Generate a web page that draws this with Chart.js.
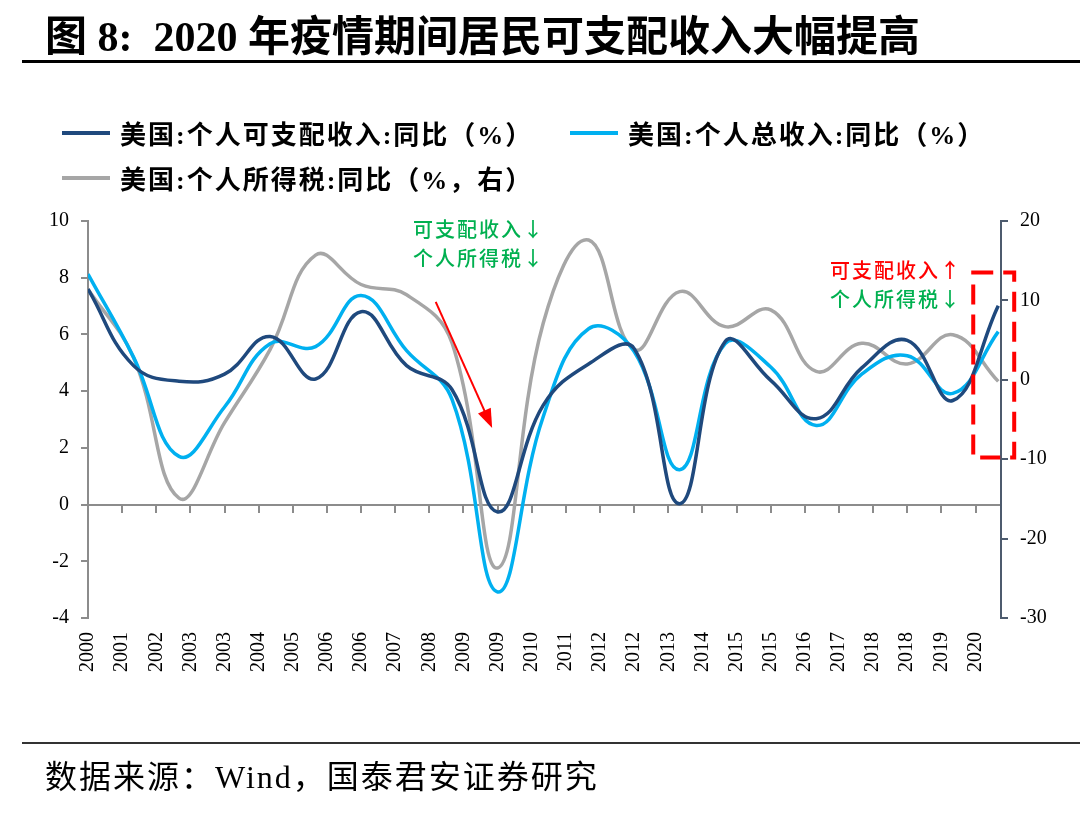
<!DOCTYPE html>
<html lang="zh">
<head>
<meta charset="UTF-8">
<title>图 8</title>
<script src="https://cdn.jsdelivr.net/npm/chart.js"></script>
<style>
  body { margin: 0; background: #fff; }
  .page { position: relative; width: 1080px; height: 813px; overflow: hidden; font-family: "Liberation Serif", "Noto Sans CJK SC", serif; }
  .chart-box { position: absolute; left: 0; top: 0; width: 1080px; height: 813px; }
  .title { position: absolute; left: 45px; top: 2px; font-size: 42px; font-weight: bold; white-space: nowrap; }
  .rule-top { position: absolute; left: 22px; right: 0; top: 60px; height: 3px; background: #000; }
  .rule-bottom { position: absolute; left: 22px; right: 0; top: 742px; height: 2px; background: #333; }
  .source { position: absolute; left: 45px; top: 751px; font-size: 32px; letter-spacing: 2px; white-space: nowrap; }
  .legend-item { position: absolute; display: flex; align-items: center; font-size: 26px; font-weight: bold; letter-spacing: 2px; white-space: nowrap; }
  .legend-item i { display: inline-block; width: 48px; height: 4px; margin-right: 10px; }
  .note { position: absolute; font-family: "Noto Sans CJK SC", sans-serif; font-size: 20px; font-weight: 500; letter-spacing: 2px; white-space: nowrap; }
</style>
</head>
<body>
<div class="page">
  <div class="chart-box"><canvas id="chart"></canvas></div>
  <div class="title">图 8:&nbsp; 2020 年疫情期间居民可支配收入大幅提高</div>
  <div class="rule-top"></div>
  <div id="legend"></div>
  <div class="note" style="left:413px; top:214px; color:#00b050;">可支配收入↓</div>
  <div class="note" style="left:413px; top:243px; color:#00b050;">个人所得税↓</div>
  <div class="note" style="left:830px; top:255px; color:#ff0000;">可支配收入↑</div>
  <div class="note" style="left:830px; top:284px; color:#00b050;">个人所得税↓</div>
  <div class="rule-bottom"></div>
  <div class="source">数据来源：Wind，国泰君安证券研究</div>
</div>

<script>
    // 年度数据 2000-2020
    var years = [2000, 2001, 2002, 2003, 2004, 2005, 2006, 2007, 2008, 2009, 2010,
        2011, 2012, 2013, 2014, 2015, 2016, 2017, 2018, 2019, 2020];
    var disposable = [7.6, 4.9, 4.35, 4.6, 5.93, 4.43, 6.8, 4.9, 4.05, -0.26, 3.5,
        4.96, 5.5, 0.03, 5.75, 4.38, 3.03, 4.82, 5.79, 3.67, 7.01];
    var totalIncome = [8.13, 5.2, 1.7, 3.44, 5.67, 5.57, 7.37, 5.43, 3.7, -3.08, 3.09,
        6.2, 5.4, 1.23, 5.68, 4.85, 2.79, 4.6, 5.25, 3.92, 6.1];
    var incomeTax = [11.4, 2.8, -14.9, -5.4, 3.8, 15.7, 12.0, 10.7, 4.6, -23.7, 7.1,
        17.6, 3.8, 11.1, 6.7, 8.8, 1.05, 4.6, 2.0, 5.67, -0.2];

    var seriesNames = ['美国:个人可支配收入:同比（%）', '美国:个人总收入:同比（%）', '美国:个人所得税:同比（%，右）'];
    var seriesColors = ['#1f497d', '#00b0f0', '#a6a6a6'];

    // 横轴标签（每 9 个月一个）
    var tickLabels = ['2000', '2001', '2002', '2003', '2003', '2004', '2005', '2006', '2006', '2007',
        '2008', '2009', '2009', '2010', '2011', '2012', '2012', '2013', '2014', '2015', '2015',
        '2016', '2017', '2018', '2018', '2019', '2020'];
    var tickValues = [];
    for (var i = 0; i < tickLabels.length; i++) {
        tickValues.push(2000 + i * 0.75);
    }

    // 图例
    var legendPos = [[62, 114], [570, 114], [62, 159]];
    var legendHtml = '';
    for (var k = 0; k < seriesNames.length; k++) {
        legendHtml += '<div class="legend-item" style="left:' + legendPos[k][0] + 'px; top:' + legendPos[k][1] + 'px;">' +
            '<i style="background:' + seriesColors[k] + '"></i>' + seriesNames[k] + '</div>';
    }
    document.getElementById('legend').innerHTML = legendHtml;

    function toPoints(values) {
        return values.map(function (v, idx) { return { x: years[idx], y: v }; });
    }

    // 箭头和红色虚线框
    var annotations = {
        id: 'annotations',
        afterDatasetsDraw: function (chart) {
            var c = chart.ctx;
            var sx = chart.scales.x, sy = chart.scales.y, sy2 = chart.scales.y2;
            c.save();
            // 虚线框
            c.strokeStyle = '#ff0000';
            c.lineWidth = 4;
            c.setLineDash([20, 10]);
            var x1 = sx.getPixelForValue(2019.45), x2 = sx.getPixelForValue(2020.35);
            var y1 = sy2.getPixelForValue(13.5), y2 = sy2.getPixelForValue(-9.8);
            c.strokeRect(x1, y1, x2 - x1, y2 - y1);
            // 箭头
            c.setLineDash([]);
            var ax = sx.getPixelForValue(2007.64), ay = sy.getPixelForValue(7.15);
            var bx = sx.getPixelForValue(2008.88), by = sy.getPixelForValue(2.7);
            var ang = Math.atan2(by - ay, bx - ax);
            c.lineWidth = 2;
            c.beginPath();
            c.moveTo(ax, ay);
            c.lineTo(bx - 16 * Math.cos(ang), by - 16 * Math.sin(ang));
            c.stroke();
            c.fillStyle = '#ff0000';
            c.beginPath();
            c.moveTo(bx, by);
            c.lineTo(bx - 19 * Math.cos(ang) + 7 * Math.sin(ang), by - 19 * Math.sin(ang) - 7 * Math.cos(ang));
            c.lineTo(bx - 19 * Math.cos(ang) - 7 * Math.sin(ang), by - 19 * Math.sin(ang) + 7 * Math.cos(ang));
            c.closePath();
            c.fill();
            c.restore();
        }
    };

    var axisFont = { family: '"Liberation Serif", serif', size: 20 };

    new Chart(document.getElementById('chart'), {
        type: 'line',
        data: {
            datasets: [{
                label: seriesNames[0],
                data: toPoints(disposable),
                borderColor: seriesColors[0],
                yAxisID: 'y'
            }, {
                label: seriesNames[1],
                data: toPoints(totalIncome),
                borderColor: seriesColors[1],
                yAxisID: 'y'
            }, {
                label: seriesNames[2],
                data: toPoints(incomeTax),
                borderColor: seriesColors[2],
                yAxisID: 'y2'
            }]
        },
        options: {
            responsive: true,
            maintainAspectRatio: false,
            animation: false,
            layout: { padding: { top: 221, left: 0, right: 0, bottom: 0 } },
            elements: {
                line: { borderWidth: 3.5, tension: 0.42, fill: false },
                point: { radius: 0 }
            },
            plugins: { legend: { display: false }, tooltip: { enabled: false } },
            scales: {
                x: {
                    type: 'linear',
                    position: 'bottom',
                    min: 2000,
                    max: 2020.06,
                    grid: { display: false, drawTicks: false },
                    border: { display: false },
                    ticks: {
                        autoSkip: false,
                        minRotation: 90,
                        maxRotation: 90,
                        padding: 14,
                        color: '#000',
                        font: axisFont,
                        callback: function (value, index) { return tickLabels[index]; }
                    },
                    afterBuildTicks: function (scale) {
                        scale.ticks = tickValues.map(function (v) { return { value: v }; });
                    },
                    afterFit: function (scale) { scale.height = 195; }
                },
                x0: {
                    axis: 'x',
                    type: 'linear',
                    position: { y: 0 },
                    min: 2000,
                    max: 2020.06,
                    grid: { drawOnChartArea: false, drawTicks: true, tickLength: 7, color: '#8c8c8c', lineWidth: 2 },
                    border: { color: '#8c8c8c', width: 2 },
                    ticks: { display: false },
                    afterBuildTicks: function (scale) {
                        scale.ticks = tickValues.map(function (v) { return { value: v }; });
                    }
                },
                y: {
                    position: 'left',
                    min: -4,
                    max: 10,
                    ticks: { stepSize: 2, padding: 12, color: '#000', font: axisFont },
                    grid: { drawOnChartArea: false, tickLength: 7, color: '#8c8c8c', lineWidth: 2 },
                    border: { color: '#8c8c8c', width: 2 },
                    afterFit: function (scale) { scale.width = 88; }
                },
                y2: {
                    position: 'right',
                    min: -30,
                    max: 20,
                    ticks: { stepSize: 10, padding: 12, color: '#000', font: axisFont },
                    grid: { drawOnChartArea: false, tickLength: 7, color: '#4d5b6e', lineWidth: 2 },
                    border: { color: '#4d5b6e', width: 2 },
                    afterFit: function (scale) { scale.width = 79; }
                }
            }
        },
        plugins: [annotations]
    });
</script>
</body>
</html>
